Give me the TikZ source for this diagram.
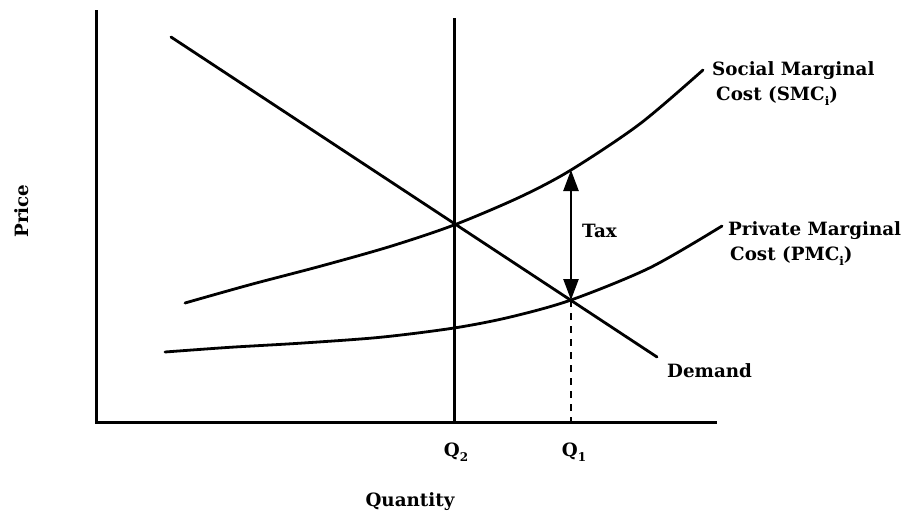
\documentclass[tikz,border=0pt]{standalone}
\usepackage{fontspec}
\setmainfont{DejaVu Serif}
\usetikzlibrary{arrows.meta}
\newcommand{\lowsub}[1]{\raisebox{-5pt}{\fontsize{12}{12}\selectfont #1}}
\begin{document}
\begin{tikzpicture}[x=1pt,y=-1pt,
  curve/.style={line width=2.8pt, line cap=round, line join=round},
  axis/.style={line width=3pt},
  lbl/.style={font=\fontsize{18.3}{25}\selectfont\bfseries, inner sep=0pt, align=left},
  taxarrow/.style={line width=2.5pt, {Triangle[length=21pt,width=15pt]}-{Triangle[length=21pt,width=15pt]}},
]
\useasboundingbox (0,0) rectangle (913,515);
% coordinates
\coordinate (O) at (96,422);
\coordinate (Ytop) at (96,10);
\coordinate (Xend) at (717,422);
\coordinate (Q2top) at (454,18);
\coordinate (Q2bot) at (454,422);
\coordinate (Q1bot) at (571,422);
\coordinate (Dstart) at (171,37);
\coordinate (Dend) at (657,357);
\coordinate (E1) at (571,300);
\coordinate (E2) at (571,170);
% axes
\draw[axis] (Ytop) -- (O) -- (Xend);
\draw[axis] (Q2top) -- (Q2bot);
\draw[line width=2.8pt, dash pattern=on 7pt off 6pt] (E1) -- (Q1bot);
% demand
\draw[curve] (Dstart) -- (Dend);
% SMC
\draw[curve] plot[smooth, tension=0.5] coordinates {(185,303) (250,284.7) (320,266.3) (390,246.5) (454,225) (520,197) (571,170) (640,123.8) (703,70)};
% PMC
\draw[curve] plot[smooth, tension=0.5] coordinates {(165,352) (230,347.3) (300,343.2) (380,337.3) (454,328) (510,317.1) (571,300) (650,267.7) (722,226)};
% Tax arrow
\draw[taxarrow] (E2) -- (E1);
% labels
\node[lbl, anchor=west] (tax) at (582,231) {Tax};
\node[lbl, anchor=north west] (smc) at (712,61) {Social Marginal\\\hspace*{4pt}Cost (SMC\lowsub{i})};
\node[lbl, anchor=north west] (pmc) at (728,221) {Private Marginal\\\hspace*{2pt}Cost (PMC\lowsub{i})};
\node[lbl, anchor=west] (dem) at (667,371) {Demand};
\node[lbl] (q2) at (456,452) {Q\lowsub{2}};
\node[lbl] (q1) at (574,452) {Q\lowsub{1}};
\node[lbl] (qty) at (410,502) {Quantity};
\node[lbl, rotate=90] (price) at (22,211) {Price};
\end{tikzpicture}
\end{document}
